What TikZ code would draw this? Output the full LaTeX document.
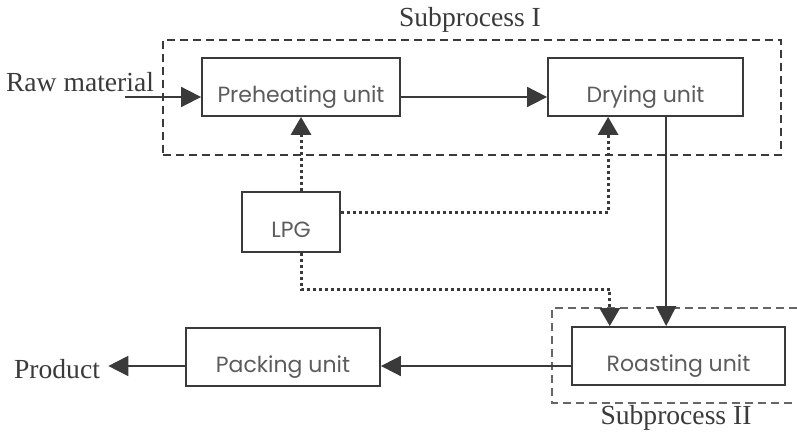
\documentclass[tikz,border=0pt]{standalone}
\usepackage{fontspec}
\setmainfont{Liberation Serif}
\newfontfamily\unitfont{Poppins}
\usetikzlibrary{arrows.meta, calc}
\definecolor{ink}{HTML}{3A3A3A}
\definecolor{unittext}{HTML}{5C5C5C}
\definecolor{frame}{HTML}{666666}

\begin{document}
\begin{tikzpicture}[
  x=0.5pt, y=-0.5pt,
  unit/.style={draw=ink, line width=0.9pt, fill=white, align=center,
               font=\unitfont\fontsize{11}{13}\selectfont, text=unittext,
               text height=18pt, text depth=2.5pt, inner sep=0pt,
               minimum height=29pt},
  lab/.style={font=\fontsize{13.8}{16}\selectfont, text=ink, inner sep=0pt},
  arr/.style={-{Triangle[length=10pt, width=10pt]}, line width=0.9pt, draw=ink},
  fuel/.style={-{Triangle[length=9pt, width=10pt]}, draw=ink,
               dash pattern=on 1.4pt off 1.6pt, line width=1.5pt},
  sub/.style={dash pattern=on 4pt off 2.5pt, line width=0.9pt},
]
\useasboundingbox (0,0) rectangle (797,442);

% subprocess frames
\node[sub, draw=ink, minimum width=309pt, minimum height=57.5pt, inner sep=0pt] (sub1) at (472,97.5) {};
\node[lab] (sub1lab) at (470,20) {Subprocess I};
\draw[sub, draw=frame] (797,308) -| (552,403) -- (797,403);
\node[lab] (sub2lab) at (676,418) {Subprocess II};

% units
\node[unit, minimum width=99pt] (preheat) at (301,87) {Preheating unit};
\node[unit, minimum width=97.5pt] (dry) at (645.5,87) {Drying unit};
\node[unit, minimum width=49pt, minimum height=30pt] (lpg) at (291,222) {LPG};
\node[unit, minimum width=106.5pt] (roast) at (678.5,356) {Roasting unit};
\node[unit, minimum width=97pt] (pack) at (283,357) {Packing unit};

\node[lab] (raw) at (80,82) {Raw material};
\node[lab] (product) at (57,369) {Product};
\coordinate (rawin) at (125,97);
\coordinate (packout) at ($(pack.west)+(0,9)$);

% material flow
\draw[arr] (rawin) -- (preheat.west |- rawin);
\draw[arr] ($(preheat.east)+(0,10)$) -- ($(dry.west)+(0,10)$);
\coordinate (drydown) at ($(dry.south west)!0.605!(dry.south east)$);
\draw[arr] (drydown) -- (drydown |- roast.north);
\draw[arr] ($(roast.west)+(0,10)$) -- ($(pack.east)+(0,9)$);
\draw[arr] (packout) -- ($(packout -| product.east)+(8,0)$);

% fuel supply
\coordinate (dryfuel) at ($(dry.south west)!0.31!(dry.south east)$);
\coordinate (roastfuel) at ($(roast.north west)!0.18!(roast.north east)$);
\draw[fuel] (preheat.south |- lpg.north) -- (preheat.south);
\draw[fuel] ($(lpg.east)+(0,-9)$) -| (dryfuel);
\draw[fuel] (preheat.south |- lpg.south) |- ($(roastfuel)+(0,-37)$) -- (roastfuel);
\end{tikzpicture}
\end{document}
